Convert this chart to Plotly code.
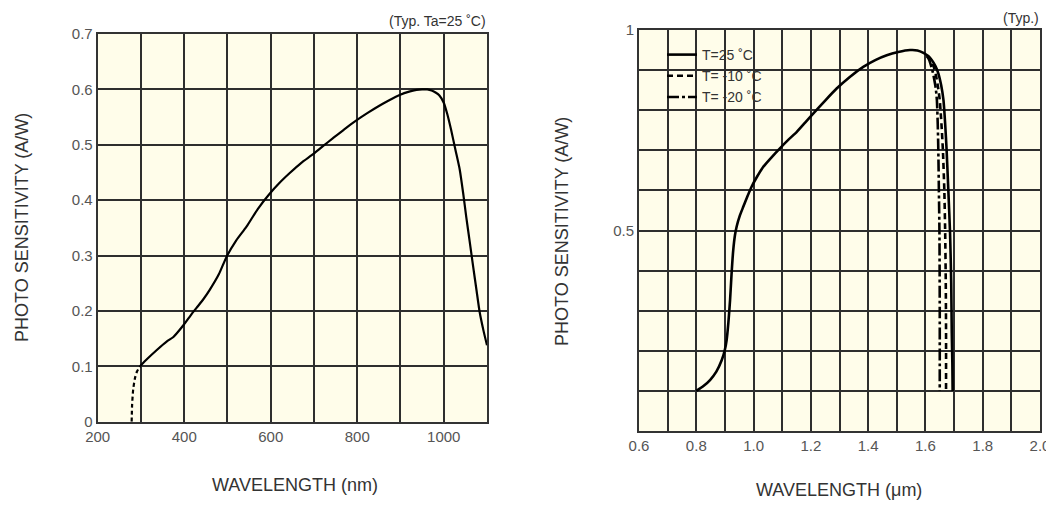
import plotly.graph_objects as go

# ---- Left chart data (wavelength nm, sensitivity A/W) ----
left_dash_x = [278.5, 279.5, 282, 286, 291, 298]
left_dash_y = [0.0, 0.030, 0.058, 0.078, 0.091, 0.100]
left_x = [298, 310, 336, 360, 375, 399, 415, 428, 445, 459, 480, 498, 520, 544, 570, 598, 620, 644, 670, 698, 720, 744, 770, 798, 825, 852, 875, 898, 920, 937, 950, 962, 972, 982, 990, 1000, 1008, 1017, 1027, 1037, 1045, 1052, 1060, 1068, 1076, 1083, 1092, 1100]
left_y = [0.100, 0.110, 0.129, 0.145, 0.153, 0.175, 0.192, 0.205, 0.222, 0.238, 0.266, 0.298, 0.327, 0.352, 0.384, 0.412, 0.431, 0.449, 0.467, 0.483, 0.497, 0.512, 0.528, 0.544, 0.558, 0.571, 0.581, 0.590, 0.596, 0.599, 0.600, 0.600, 0.598, 0.594, 0.589, 0.576, 0.556, 0.527, 0.491, 0.455, 0.412, 0.370, 0.325, 0.280, 0.236, 0.198, 0.164, 0.138]
left_xticks = [200, 300, 400, 500, 600, 700, 800, 900, 1000, 1100]
left_xtext = ["200", "", "400", "", "600", "", "800", "", "1000", ""]
left_yticks = [0, 0.1, 0.2, 0.3, 0.4, 0.5, 0.6, 0.7]

# ---- Right chart data (wavelength um, sensitivity A/W) ----
t25_x = [0.80, 0.825, 0.848, 0.870, 0.889, 0.899, 0.906, 0.912, 0.918, 0.923, 0.929, 0.935, 0.941, 0.952, 0.964, 0.978, 0.993, 1.012, 1.034, 1.062, 1.092, 1.121, 1.151, 1.180, 1.209, 1.250, 1.290, 1.336, 1.383, 1.425, 1.465, 1.505, 1.546, 1.572, 1.593, 1.610, 1.622, 1.635, 1.645, 1.655, 1.663, 1.669, 1.674, 1.680, 1.686, 1.690, 1.692, 1.694, 1.695]
t25_y = [0.10, 0.112, 0.127, 0.148, 0.177, 0.200, 0.227, 0.270, 0.327, 0.390, 0.451, 0.488, 0.510, 0.537, 0.559, 0.584, 0.609, 0.634, 0.659, 0.682, 0.705, 0.726, 0.746, 0.769, 0.792, 0.824, 0.854, 0.883, 0.908, 0.925, 0.937, 0.945, 0.950, 0.949, 0.943, 0.935, 0.925, 0.910, 0.892, 0.862, 0.825, 0.765, 0.700, 0.600, 0.493, 0.370, 0.244, 0.170, 0.10]
tm10_x = [1.605, 1.615, 1.622, 1.630, 1.636, 1.643, 1.650, 1.656, 1.661, 1.666, 1.669, 1.671, 1.672, 1.672]
tm10_y = [0.935, 0.929, 0.920, 0.906, 0.890, 0.862, 0.825, 0.765, 0.700, 0.600, 0.493, 0.370, 0.244, 0.10]
tm20_x = [1.605, 1.612, 1.618, 1.624, 1.630, 1.636, 1.640, 1.643, 1.645, 1.647, 1.649, 1.650, 1.650]
tm20_y = [0.935, 0.927, 0.915, 0.900, 0.880, 0.855, 0.825, 0.765, 0.700, 0.600, 0.493, 0.300, 0.10]
right_xticks = [0.6, 0.7, 0.8, 0.9, 1.0, 1.1, 1.2, 1.3, 1.4, 1.5, 1.6, 1.7, 1.8, 1.9, 2.0]
right_xtext = ["0.6", "", "0.8", "", "1.0", "", "1.2", "", "1.4", "", "1.6", "", "1.8", "", "2.0"]
right_yticks = [0, 0.1, 0.2, 0.3, 0.4, 0.5, 0.6, 0.7, 0.8, 0.9, 1.0]
right_ytext = ["", "", "", "", "", "0.5", "", "", "", "", "1"]

# page body has an 8px default margin; figure sized to fit inside the window
OFF = 8
W, H = 1054 - OFF, 509 - 2 * OFF
FONT = "Liberation Sans, Arial, sans-serif"
TICKC = "#555555"
GRIDC = "#2e2e2e"
BG = "#fffdea"

fig = go.Figure()
fig.add_trace(go.Scatter(x=left_dash_x, y=left_dash_y, mode="lines", xaxis="x", yaxis="y",
                         line=dict(color="black", width=2.2, dash="4px,3px", shape="spline", smoothing=0.6), showlegend=False))
fig.add_trace(go.Scatter(x=left_x, y=left_y, mode="lines", xaxis="x", yaxis="y",
                         line=dict(color="black", width=2.2, shape="spline", smoothing=0.6), showlegend=False))

fig.add_trace(go.Scatter(x=t25_x, y=t25_y, mode="lines", xaxis="x2", yaxis="y2", name="T=25 \u02daC",
                         line=dict(color="black", width=2.6, shape="spline", smoothing=0.6)))
fig.add_trace(go.Scatter(x=tm10_x, y=tm10_y, mode="lines", xaxis="x2", yaxis="y2", name="T= -10 \u02daC",
                         line=dict(color="black", width=2.6, dash="6px,4px", shape="spline", smoothing=0.6)))
fig.add_trace(go.Scatter(x=tm20_x, y=tm20_y, mode="lines", xaxis="x2", yaxis="y2", name="T= -20 \u02daC",
                         line=dict(color="black", width=2.6, dash="12px,3px,3px,3px", shape="spline", smoothing=0.6)))

def px_x(p):
    return (p - OFF) / W

def px_y(p):
    return (H - (p - OFF)) / H

axis_common = dict(showgrid=True, gridcolor=GRIDC, gridwidth=1.6, zeroline=False, automargin=False,
                   showline=True, linecolor="#333333", linewidth=2, mirror=True, ticklabeloverflow="allow",
                   ticks="", tickfont=dict(family=FONT, size=15, color=TICKC), fixedrange=True)

fig.update_layout(
    width=W, height=H,
    margin=dict(l=0, r=0, t=0, b=0, pad=0),
    paper_bgcolor="white",
    plot_bgcolor=BG,
    font=dict(family=FONT, color="#333333"),
    xaxis=dict(domain=[px_x(97.7), px_x(487)], range=[200, 1100], tickmode="array",
               tickvals=left_xticks, ticktext=left_xtext, anchor="y", **axis_common),
    yaxis=dict(domain=[px_y(421.7), px_y(34)], range=[0, 0.7], tickmode="array",
               tickvals=left_yticks, ticktext=[("%g" % v) for v in left_yticks], anchor="x", **axis_common),
    xaxis2=dict(domain=[px_x(639), px_x(1040)], range=[0.6, 2.0], tickmode="array",
                tickvals=right_xticks, ticktext=right_xtext, anchor="y2", **axis_common),
    yaxis2=dict(domain=[px_y(431), px_y(30)], range=[0, 1.0], tickmode="array",
                tickvals=right_yticks, ticktext=right_ytext, anchor="x2", **axis_common),
    legend=dict(x=px_x(662), y=px_y(39), xanchor="left", yanchor="top", bgcolor="rgba(0,0,0,0)",
                font=dict(family=FONT, size=14, color="#333333"), tracegroupgap=0),
    showlegend=True,
)

ann = [
    dict(text="(Typ. Ta=25 \u02daC)", x=px_x(488), y=px_y(21), xanchor="right", yanchor="middle", size=14),
    dict(text="(Typ.)", x=px_x(1041), y=px_y(18), xanchor="right", yanchor="middle", size=14),
    dict(text="WAVELENGTH (nm)", x=px_x(295), y=px_y(485), xanchor="center", yanchor="middle", size=18),
    dict(text="WAVELENGTH (\u03bcm)", x=px_x(839), y=px_y(490), xanchor="center", yanchor="middle", size=18),
]
for a in ann:
    fig.add_annotation(text=a["text"], x=a["x"], y=a["y"], xref="paper", yref="paper",
                       xanchor=a["xanchor"], yanchor=a["yanchor"], showarrow=False,
                       font=dict(family=FONT, size=a["size"], color="#333333"))
for xc, yc in [(22, 228), (562, 232)]:
    fig.add_annotation(text="PHOTO SENSITIVITY (A/W)", x=px_x(xc), y=px_y(yc), xref="paper", yref="paper",
                       xanchor="center", yanchor="middle", textangle=-90, showarrow=False,
                       font=dict(family=FONT, size=18, color="#333333"))

fig.write_html("out.html")
